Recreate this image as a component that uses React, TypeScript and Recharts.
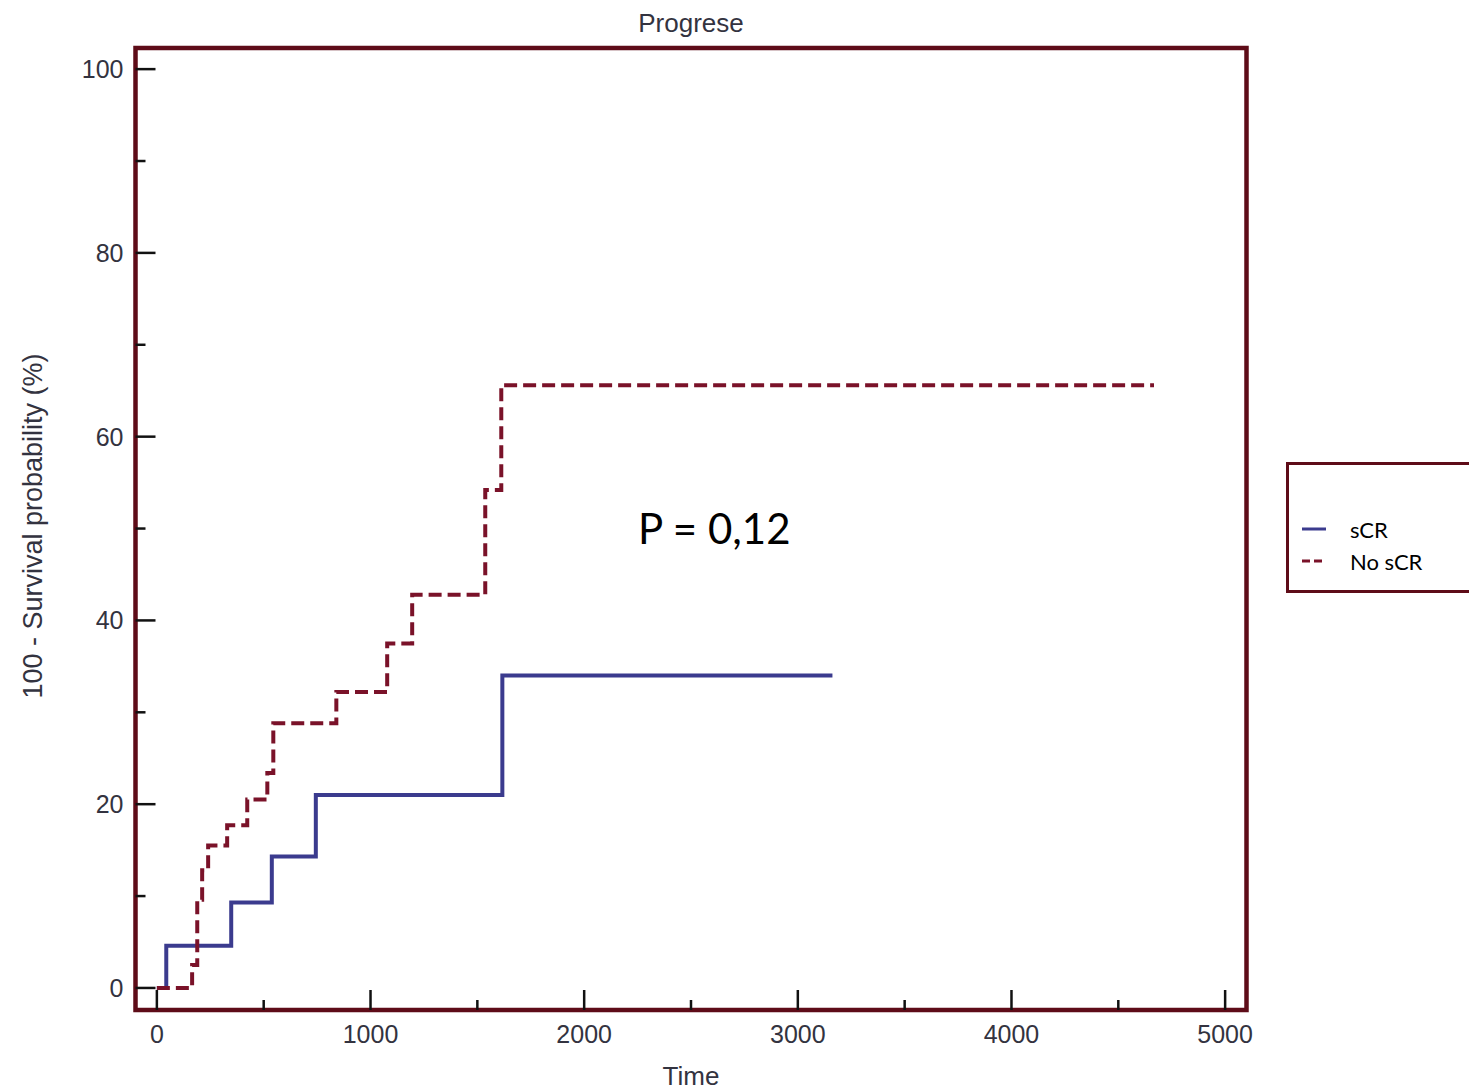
import React from 'react';
import { LineChart, Line, XAxis, YAxis, ReferenceArea, Legend, Label, Customized } from 'recharts';

// ---- data ----
const sCRTimes = [0, 44, 348, 538, 744, 1617, 3162];
const sCRValues = [0, 4.6, 9.3, 14.3, 21.0, 34.0, 34.0];

const noSCRTimes = [0, 165, 189, 212, 240, 329, 423, 517, 545, 840, 1078, 1195, 1537, 1612, 4667];
const noSCRValues = [0, 2.5, 9.6, 12.8, 15.5, 17.7, 20.5, 23.4, 28.8, 32.2, 37.5, 42.8, 54.2, 65.6, 65.6];

const xTicks = [0, 500, 1000, 1500, 2000, 2500, 3000, 3500, 4000, 4500, 5000];
const xLabelTicks = [0, 1000, 2000, 3000, 4000, 5000];
const yTicks = [0, 10, 20, 30, 40, 50, 60, 70, 80, 90, 100];
const yLabelTicks = [0, 20, 40, 60, 80, 100];

const xDomain = [-100, 5100];
const yDomain = [-2.4, 102.3];

const seriesNames = ['sCR', 'No sCR'];
const titleText = 'Progrese';
const xTitle = 'Time';
const yTitle = '100 - Survival probability (%)';
const pText = 'P = 0,12';

const sCRData = sCRTimes.map((t, i) => ({ t, v: sCRValues[i] }));
const noSCRData = noSCRTimes.map((t, i) => ({ t, v: noSCRValues[i] }));

const BLUE = '#3b3b8e';
const RED = '#7a1229';
const FRAME = '#5e0c18';
const TEXT = '#333340';
const SANS = '"Liberation Sans", Arial, sans-serif';
const CAL = 'Lato, "Open Sans", sans-serif';

const XTick = (props: any) => {
  const { x, y, payload } = props;
  const major = xLabelTicks.includes(payload.value);
  return (
    <g>
      <line x1={x} y1={y} x2={x} y2={y - (major ? 20 : 10)} stroke="#111" strokeWidth={2.5} />
      {major && (
        <text x={x} y={y + 33} textAnchor="middle" fontSize={25} fontFamily={SANS} fill={TEXT}>
          {payload.value}
        </text>
      )}
    </g>
  );
};

const YTick = (props: any) => {
  const { x, y, payload } = props;
  const major = yLabelTicks.includes(payload.value);
  return (
    <g>
      <line x1={x} y1={y} x2={x + (major ? 20 : 10)} y2={y} stroke="#111" strokeWidth={2.5} />
      {major && (
        <text x={x - 12} y={y} dy="0.36em" textAnchor="end" fontSize={25} fontFamily={SANS} fill={TEXT}>
          {payload.value}
        </text>
      )}
    </g>
  );
};

const PAnnotation = () => (
  <text x={638} y={544} fontSize={42} fontFamily={CAL} fill="#000">
    {pText}
  </text>
);

const LegendBox = () => (
  <div
    style={{
      boxSizing: 'border-box',
      width: 200,
      height: 131,
      border: `3px solid ${FRAME}`,
      background: '#fff',
      position: 'relative',
    }}
  >
    {seriesNames.map((name, i) => (
      <div
        key={name}
        style={{ position: 'absolute', left: 13, top: 50 + i * 32, height: 28, display: 'flex', alignItems: 'center' }}
      >
        <svg width={26} height={10}>
          <line
            x1={0}
            y1={5}
            x2={24}
            y2={5}
            stroke={i === 0 ? BLUE : RED}
            strokeWidth={3}
            strokeDasharray={i === 0 ? undefined : '8 4'}
          />
        </svg>
        <span style={{ marginLeft: 22, fontFamily: CAL, fontSize: 22, color: '#000' }}>{name}</span>
      </div>
    ))}
  </div>
);

export default function App() {
  return (
    <div style={{ position: 'absolute', left: 0, top: 0, width: 1469, height: 1090, overflow: 'hidden', background: '#fff' }}>
      <LineChart width={1469} height={1090} margin={{ top: 48, right: 222.5, bottom: 0, left: 0 }}>
        <XAxis
          type="number"
          dataKey="t"
          domain={xDomain}
          ticks={xTicks}
          interval={0}
          allowDataOverflow
          axisLine={false}
          tickLine={false}
          tickSize={0}
          tickMargin={0}
          height={80}
          tick={<XTick />}
        >
          <Label
            content={(p: any) => {
              const vb = p.viewBox || {};
              return (
                <text x={vb.x + vb.width / 2} y={vb.y + 75} textAnchor="middle" fontSize={26} fontFamily={SANS} fill={TEXT}>
                  {xTitle}
                </text>
              );
            }}
          />
        </XAxis>
        <YAxis
          type="number"
          domain={yDomain}
          ticks={yTicks}
          interval={0}
          allowDataOverflow
          axisLine={false}
          tickLine={false}
          tickSize={0}
          tickMargin={0}
          width={135.5}
          tick={<YTick />}
        >
          <Label
            content={(p: any) => {
              const vb = p.viewBox || {};
              const cx = vb.x + 33;
              const cy = vb.y + vb.height / 2 - 3;
              return (
                <text
                  x={cx}
                  y={cy}
                  transform={`rotate(-90, ${cx}, ${cy})`}
                  textAnchor="middle"
                  dominantBaseline="central"
                  fontSize={27}
                  fontFamily={SANS}
                  fill={TEXT}
                >
                  {yTitle}
                </text>
              );
            }}
          />
        </YAxis>
        <ReferenceArea
          x1={xDomain[0]}
          x2={xDomain[1]}
          y1={yDomain[0]}
          y2={yDomain[1]}
          fill="none"
          fillOpacity={0}
          stroke={FRAME}
          strokeWidth={4.5}
          ifOverflow="visible"
          label={{ value: titleText, position: 'top', offset: 16, fill: TEXT, fontSize: 26, fontFamily: SANS }}
        />
        <Line
          data={sCRData}
          dataKey="v"
          name={seriesNames[0]}
          type="stepAfter"
          stroke={BLUE}
          strokeWidth={4}
          dot={false}
          activeDot={false}
          isAnimationActive={false}
        />
        <Line
          data={noSCRData}
          dataKey="v"
          name={seriesNames[1]}
          type="stepAfter"
          stroke={RED}
          strokeWidth={4}
          strokeDasharray="13 6"
          dot={false}
          activeDot={false}
          isAnimationActive={false}
        />
        <Customized component={<PAnnotation />} />
        <Legend
          layout="vertical"
          align="center"
          verticalAlign="middle"
          wrapperStyle={{ left: 1286, top: 462, width: 200, height: 131 }}
          content={<LegendBox />}
        />
      </LineChart>
    </div>
  );
}
